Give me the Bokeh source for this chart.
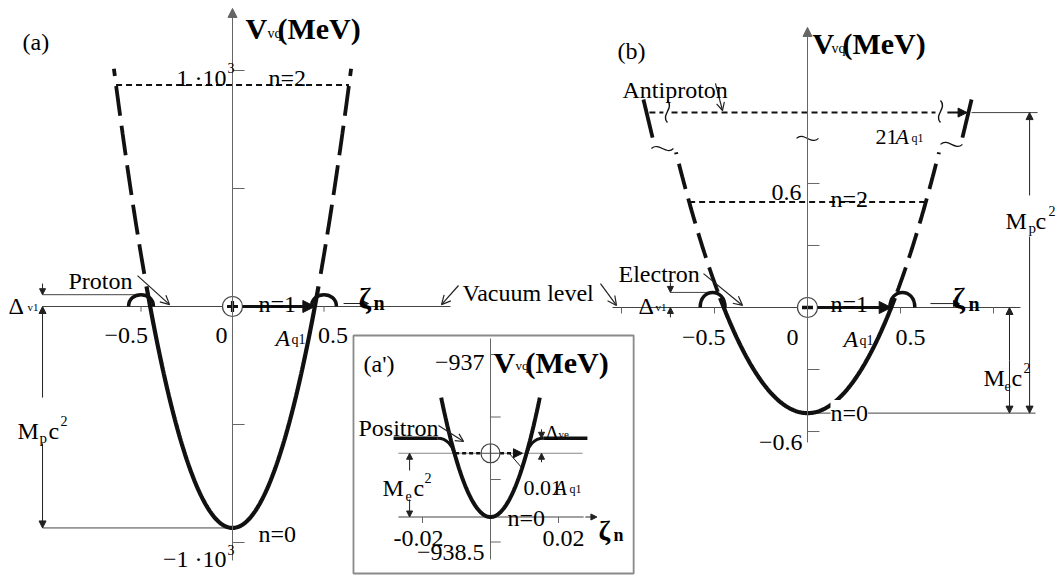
import numpy as np
from bokeh.plotting import figure
from bokeh.models import Range1d, Label, Arrow, NormalHead, OpenHead
from bokeh.embed import file_html
from bokeh.resources import INLINE

W, H = 1062, 576
SERIF = "Liberation Serif"
INK = "#111111"
THIN = "#444444"
AXIS = "#666666"

# ---------------- panel (a): proton well -------------------------------
A_MASS = 938.3            # M_p c^2 (MeV), depth of the well
A_ZERO = 0.45             # zeta where the well meets the vacuum level
A_SOLID = 0.47            # solid part of the well
A_TOP = 0.648             # dashed part ends here
A_N2 = 938.3              # n=2 level
A_HUMP_Z = [-0.5, 0.5]
A_HUMP_HALF = 0.068
A_HUMP_H = 50.0           # Delta_v1
A_ZETA_TICKS = [-0.5, 0.5]
A_V_TICKS = [1000, 500, -500, -1000]

# ---------------- panel (b): electron well -----------------------------
B_MASS = 0.511            # M_e c^2 (MeV)
B_ZERO = 0.45
B_SOLID = 0.47
B_DASH_TOP = 0.707
B_N2 = 0.511
B_HUMP_Z = [-0.51, 0.51]
B_HUMP_HALF = 0.067
B_HUMP_H = 0.073          # Delta_v1
B_ZETA_TICKS = [-1.0, -0.5, 0.5, 1.0]
B_V_TICKS = [0.6, 0.3, -0.3, -0.6]
B_ANTI = 0.943            # antiproton level on the broken axis
B_UPPER_Z = [0.833, 0.882]   # well above the axis break
B_UPPER_V = [0.822, 1.006]

# ---------------- inset (a'): bottom of the proton well ---------------
I_VERTEX = -938.3
I_ME = 0.51
I_ZERO = 0.0106           # zeta where the well reaches vertex + M_e c^2
I_TOP = 0.0145
I_DELTA = 0.12            # Delta_ve
I_FLAT = [0.0155, 0.0285]
I_ZETA_TICKS = [-0.02, 0.02]
I_V_TICKS = [-937.0, -937.5, -938.0, -938.5]


def x_range_for(value, px, scale):
    return Range1d(start=value - px / scale, end=value + (W - px) / scale)


def y_range_for(value, py, scale):
    return Range1d(start=value - (H - py) / scale, end=value + py / scale)


p = figure(width=W, height=H, output_backend="svg", toolbar_location=None,
           x_axis_type=None, y_axis_type=None, min_border=0,
           x_range=x_range_for(0.0, 232, 183.0), y_range=y_range_for(0.0, 306, 0.236))
p.grid.visible = False
p.outline_line_color = None
p.background_fill_color = "white"
p.border_fill_color = "white"
p.extra_x_ranges = {"b": x_range_for(0.0, 807, 186.0), "i": x_range_for(0.0, 490, 3400.0)}
p.extra_y_ranges = {"b": y_range_for(0.0, 307, 206.7), "i": y_range_for(-937.0, 354, 125.0)}


def rn(panel):
    name = "default" if panel == "a" else panel
    return dict(x_range_name=name, y_range_name=name)


def seg(panel, x0, y0, x1, y1, color=THIN, width=1.0, dash="solid"):
    p.segment(x0=x0, y0=y0, x1=x1, y1=y1, line_color=color, line_width=width,
              line_dash=dash, **rn(panel))


def arrow(panel, x0, y0, x1, y1, size=7, width=1.0, kind="normal", color="#222222", both=False):
    def head():
        if kind == "open":
            return OpenHead(size=size, line_color=color, line_width=width)
        return NormalHead(size=size, fill_color=color, line_color=color, line_width=1)
    p.add_layout(Arrow(end=head(), start=head() if both else None,
                       x_start=x0, y_start=y0, x_end=x1, y_end=y1,
                       line_color=color, line_width=width, **rn(panel)))


def lab(panel, x, y, text, size=24, dx=0, dy=0, style="normal", align="left", bg=None):
    p.add_layout(Label(x=x, y=y, x_offset=dx, y_offset=-dy, text=text,
                       text_font=SERIF, text_font_size=f"{size}px",
                       text_font_style=style, text_align=align,
                       text_baseline="alphabetic", text_color="black",
                       background_fill_color=bg, **rn(panel)))


def well(z, mass, zero):
    return mass * ((z / zero) ** 2 - 1.0)


def hump(panel, centers, half, height, width):
    c = np.array(centers)
    p.bezier(x0=c - half, y0=0 * c, x1=c + half, y1=0 * c,
             cx0=c - half, cy0=0 * c + height * 4 / 3, cx1=c + half, cy1=0 * c + height * 4 / 3,
             line_color=INK, line_width=width, **rn(panel))


def tilde(panel, xc, yc, hx, hy, vertical=False, width=1.2):
    if not vertical:
        p.bezier(x0=[xc - hx], y0=[yc], x1=[xc + hx], y1=[yc],
                 cx0=[xc - hx / 3], cy0=[yc + hy], cx1=[xc + hx / 3], cy1=[yc - hy],
                 line_color=INK, line_width=width, **rn(panel))
    else:
        p.bezier(x0=[xc], y0=[yc + hy], x1=[xc], y1=[yc - hy],
                 cx0=[xc + hx], cy0=[yc + hy / 3], cx1=[xc - hx], cy1=[yc - hy / 3],
                 line_color=INK, line_width=width, **rn(panel))


def well_curves(panel, mass, zero, solid, top, dash, width=4.2):
    zs = np.linspace(-solid, solid, 201)
    p.line(zs, well(zs, mass, zero), line_color=INK, line_width=width, **rn(panel))
    for sgn in (-1, 1):
        zd = sgn * np.linspace(solid + 0.012, top, 60)
        p.line(zd, well(zd, mass, zero), line_color=INK, line_width=width - 0.4,
               line_dash=dash, **rn(panel))


# ======================= panel (a) =====================================
seg("a", [-1.038], [0], [1.191], [0])                               # vacuum level
arrow("a", 0, -1076, 0, 1263, size=9, width=1.0, color=AXIS)        # V axis
seg("a", [0] * 4, A_V_TICKS, [0.066] * 4, A_V_TICKS, color=AXIS)
seg("a", A_ZETA_TICKS, [0, 0], A_ZETA_TICKS, [-22, -22], color=AXIS)
seg("a", [-1.038], [-A_MASS], [0], [-A_MASS])                        # bottom line
seg("a", [-1.038], [A_HUMP_H], [A_HUMP_Z[0]], [A_HUMP_H])            # Delta_v1 line
arrow("a", -1.038, 97, -1.038, A_HUMP_H, size=6)
arrow("a", -1.038, -386, -1.038, 0, size=7)
arrow("a", -1.038, -580, -1.038, -A_MASS, size=7)
zn = np.sqrt(A_N2 / A_MASS + 1.0) * A_ZERO
seg("a", [-zn], [A_N2], [zn], [A_N2], color=INK, width=2.0, dash="6 4")
well_curves("a", A_MASS, A_ZERO, A_SOLID, A_TOP, "30 10")
hump("a", A_HUMP_Z, A_HUMP_HALF, A_HUMP_H, 3.5)
arrow("a", -0.519, 131, -0.344, 8, size=9, kind="open", width=1.2)    # Proton pointer
arrow("a", 0.055, 0, A_ZERO, 0, size=12, width=3.0, color=INK)       # n=1 arrow
arrow("a", 0.607, 12.7, 0.743, 12.7, size=6, width=1.0)              # zeta_n pointer
arrow("a", 1.235, 89, 1.142, 8, size=9, kind="open", width=1.2)      # vacuum level pointer
p.scatter([0], [0], marker="circle", size=20, fill_color="white", line_color=THIN, line_width=1.2)
p.scatter([0], [0], marker="cross", size=11, line_color=INK, line_width=3.2)

lab("a", 0, 0, "(a)", dx=-210, dy=-265)
lab("a", 0, 0, "V", size=30, style="bold", dx=13, dy=-278)
lab("a", 0, 0, "vq", size=14, dx=35, dy=-273)
lab("a", 0, 0, "(MeV)", size=30, style="bold", dx=45, dy=-278)
lab("a", 0, 1000, "1 \u00b710", align="right", dx=-6, dy=7)
lab("a", 0, 1000, "3", size=14, dx=-5, dy=-3)
lab("a", 0, A_N2, "n=2", dx=36, dy=-7)
lab("a", 0, 0, "Proton", dx=-164, dy=-26)
lab("a", 0, 0, "\u0394", dx=-224, dy=-1)
lab("a", 0, 0, "v1", size=11, dx=-205, dy=0)
lab("a", 0, 0, "M", dx=-215, dy=124)
lab("a", 0, 0, "p", size=15, dx=-193, dy=131)
lab("a", 0, 0, "c", dx=-184, dy=124)
lab("a", 0, 0, "2", size=14, dx=-172, dy=114)
lab("a", -0.5, 0, "\u22120.5", align="right", dx=7, dy=29)
lab("a", 0, 0, "0", align="right", dx=-5, dy=29)
lab("a", 0, 0, "A", style="italic", dx=43, dy=31)
lab("a", 0, 0, "q1", size=14, dx=59, dy=33)
lab("a", 0.5, 0, "0.5", dx=-6, dy=29)
lab("a", 0, 0, "n=1", dx=26, dy=-3)
lab("a", 0, 0, "\u03b6", size=30, style="bold", dx=126, dy=-9)
lab("a", 0, 0, "n", size=20, style="bold", dx=141, dy=-4)
lab("a", 0, 0, "Vacuum level", dx=230, dy=-14)
lab("a", 0, -A_MASS, "n=0", dx=26, dy=6)
lab("a", 0, -1000, "\u22121 \u00b710", align="right", dx=-6, dy=16)
lab("a", 0, -1000, "3", size=14, dx=-5, dy=7)

# ======================= panel (b) =====================================
seg("b", [-1.048], [0], [1.145], [0])                               # vacuum level
arrow("b", 0, -0.653, 0, 1.355, size=9, width=1.0, color=AXIS)      # V axis
seg("b", [0] * 4, B_V_TICKS, [0.0645] * 4, B_V_TICKS, color=AXIS)
seg("b", B_ZETA_TICKS, [0] * 4, B_ZETA_TICKS, [-0.029] * 4, color=AXIS)
seg("b", [0], [-B_MASS], [1.226], [-B_MASS])                         # bottom line
seg("b", [0.882], [B_ANTI], [1.237], [B_ANTI])                       # antiproton level
seg("b", [-0.737], [B_HUMP_H], [B_HUMP_Z[0]], [B_HUMP_H])            # Delta_v1 line
arrow("b", -0.737, 0.121, -0.737, B_HUMP_H, size=6)
arrow("b", -0.737, -0.048, -0.737, 0, size=6)
arrow("b", 1.086, -0.2555, 1.086, 0, size=7)
arrow("b", 1.086, -0.2555, 1.086, -B_MASS, size=7)
arrow("b", 1.194, 0.542, 1.194, B_ANTI, size=7)
arrow("b", 1.194, 0.343, 1.194, -B_MASS, size=7)
zn = np.sqrt(B_N2 / B_MASS + 1.0) * B_ZERO
seg("b", [-zn], [B_N2], [zn], [B_N2], color=INK, width=2.0, dash="6 4")
seg("b", [-0.850, -0.731], [B_ANTI] * 2, [-0.775, 0.688], [B_ANTI] * 2,
    color=INK, width=2.0, dash="6 4")
arrow("b", 0.752, B_ANTI, 0.858, B_ANTI, size=9, width=2.0, color=INK)
well_curves("b", B_MASS, B_ZERO, B_SOLID, B_DASH_TOP, "26 10")
for sgn in (-1, 1):
    seg("b", [sgn * B_UPPER_Z[0]], [B_UPPER_V[0]], [sgn * B_UPPER_Z[1]], [B_UPPER_V[1]],
        color=INK, width=3.8)
hump("b", B_HUMP_Z, B_HUMP_HALF, B_HUMP_H, 3.5)
tilde("b", 0, 0.818, 0.059, 0.034)
tilde("b", -0.780, 0.769, 0.059, 0.034)
tilde("b", 0.774, 0.789, 0.059, 0.034)
tilde("b", -0.753, 0.948, 0.038, 0.053, vertical=True, width=1.4)
tilde("b", 0.715, 0.948, 0.038, 0.053, vertical=True, width=1.4)
arrow("b", -0.495, 1.084, -0.457, 0.953, size=8, kind="open", width=1.2)   # Antiproton pointer
arrow("b", -0.559, 0.164, -0.349, 0.01, size=9, kind="open", width=1.2)    # Electron pointer
arrow("b", -1.113, 0.116, -1.027, 0.01, size=9, kind="open", width=1.2)    # vacuum level pointer
arrow("b", 0.054, 0, B_ZERO, 0, size=12, width=3.0, color=INK)            # n=1 arrow
arrow("b", 0.661, 0.019, 0.817, 0.019, size=6, width=1.0)                 # zeta_n pointer
p.scatter([0], [0], marker="circle", size=20, fill_color="white", line_color=THIN,
          line_width=1.2, **rn("b"))
p.scatter([0], [0], marker="dash", size=11, line_color=INK, line_width=3.5, **rn("b"))

lab("b", 0, 0, "(b)", dx=-190, dy=-257)
lab("b", 0, 0, "V", size=30, style="bold", dx=5, dy=-264)
lab("b", 0, 0, "vq", size=14, dx=24, dy=-259)
lab("b", 0, 0, "(MeV)", size=30, style="bold", dx=35, dy=-264)
lab("b", 0, 0, "Antiproton", dx=-185, dy=-218)
lab("b", 0, 0, "21", size=22, dx=68, dy=-171)
lab("b", 0, 0, "A", size=22, style="italic", dx=88, dy=-171)
lab("b", 0, 0, "q1", size=12, dx=104, dy=-170)
lab("b", 0, 0.6, "0.6", align="right", dx=-6, dy=9)
lab("b", 0, B_N2, "n=2", dx=23, dy=-3)
lab("b", 0, 0, "Electron", dx=-189, dy=-34)
lab("b", 0, 0, "\u0394", dx=-169, dy=-2)
lab("b", 0, 0, "v1", size=11, dx=-152, dy=-1)
lab("b", 0, 0, "n=1", dx=23, dy=-4)
lab("b", 0, 0, "\u03b6", size=30, style="bold", dx=145, dy=-10)
lab("b", 0, 0, "n", size=20, style="bold", dx=161, dy=-4)
lab("b", -0.5, 0, "\u22120.5", align="right", dx=11, dy=30)
lab("b", 0, 0, "0", align="right", dx=-9, dy=30)
lab("b", 0, 0, "A", style="italic", dx=36, dy=31)
lab("b", 0, 0, "q1", size=14, dx=52, dy=33)
lab("b", 0.5, 0, "0.5", dx=-5, dy=30)
lab("b", 0, -B_MASS, "n=0", dx=23, dy=0, bg="white")
lab("b", 0, -0.6, "\u22120.6", align="right", dx=-5, dy=11)
lab("b", 0, 0, "M", dx=176, dy=70)
lab("b", 0, 0, "e", size=14, dx=197, dy=78)
lab("b", 0, 0, "c", dx=204, dy=70)
lab("b", 0, 0, "2", size=14, dx=216, dy=60)
lab("b", 0, 0, "M", dx=198, dy=-87)
lab("b", 0, 0, "p", size=15, dx=221, dy=-80)
lab("b", 0, 0, "c", dx=228, dy=-87)
lab("b", 0, 0, "2", size=14, dx=241, dy=-97)

# ======================= inset (a') ====================================
p.quad(left=[-0.0403], right=[0.0421], bottom=[-938.752], top=[-936.848],
       fill_color="white", line_color="#8a8a8a", line_width=1.8, **rn("i"))
I_LEVEL = I_VERTEX + I_ME
seg("i", [0], [-938.64], [0], [-936.872], color=AXIS)               # V axis
seg("i", [0] * 4, I_V_TICKS, [0.003] * 4, I_V_TICKS, color=AXIS)
seg("i", [-0.0271], [I_VERTEX], [0.0274], [I_VERTEX], color=THIN)    # zeta axis
seg("i", I_ZETA_TICKS, [I_VERTEX] * 2, I_ZETA_TICKS, [I_VERTEX - 0.048] * 2, color=AXIS)
seg("i", [-0.0271], [I_LEVEL], [0.0271], [I_LEVEL], color="#888888")
arrow("i", 0.0279, I_VERTEX, 0.0313, I_VERTEX, size=6)
zi = np.linspace(-I_TOP, I_TOP, 161)
p.line(zi, I_VERTEX + I_ME * (zi / I_ZERO) ** 2, line_color=INK, line_width=4.0, **rn("i"))
flat = I_LEVEL + I_DELTA
for sgn in (-1, 1):
    seg("i", [sgn * I_FLAT[0]], [flat], [sgn * I_FLAT[1]], [flat], color=INK, width=3.6)
    p.bezier(x0=[sgn * I_FLAT[0]], y0=[flat], x1=[sgn * I_ZERO], y1=[I_LEVEL],
             cx0=[sgn * 0.0128], cy0=[flat], cx1=[sgn * 0.0112], cy1=[I_LEVEL + 0.06],
             line_color=INK, line_width=3.0, **rn("i"))
seg("i", [-I_ZERO + 0.0002], [I_LEVEL], [-0.0028], [I_LEVEL], color=INK, width=2.4, dash="4 3")
seg("i", [0.0028], [I_LEVEL], [0.0080], [I_LEVEL], color=INK, width=2.4, dash="4 3")
arrow("i", 0.0070, I_LEVEL, 0.0094, I_LEVEL, size=9, width=2.0, color=INK)
arrow("i", 0.0150, flat + 0.072, 0.0150, flat, size=6)
arrow("i", 0.0150, I_LEVEL - 0.072, 0.0150, I_LEVEL, size=6)
arrow("i", -0.0238, -937.928, -0.0238, I_LEVEL, size=6)
arrow("i", -0.0238, -938.16, -0.0238, I_VERTEX, size=6)
arrow("i", -0.0153, -937.568, -0.0079, -937.696, size=8, kind="open", width=1.2)   # Positron pointer
seg("i", [0.0053], [-937.784], [0.0094], [-937.912], color=INK, width=1.0)
p.scatter([0], [I_LEVEL], marker="circle_cross", size=19, fill_color="white",
          line_color=THIN, line_width=1.2, **rn("i"))

lab("i", 0, -937.0, "(a')", dx=-127, dy=9)
lab("i", 0, -937.0, "\u2212937", align="right", dx=-6, dy=8)
lab("i", 0, -937.0, "V", size=30, style="bold", dx=3, dy=8)
lab("i", 0, -937.0, "vq", size=13, dx=25, dy=11)
lab("i", 0, -937.0, "(MeV)", size=30, style="bold", dx=35, dy=8)
lab("i", 0, -937.0, "Positron", dx=-132, dy=73)
lab("i", 0, -937.0, "\u0394", size=20, dx=55, dy=78)
lab("i", 0, -937.0, "ve", size=11, dx=68, dy=79)
lab("i", 0, -937.0, "M", dx=-108, dy=133)
lab("i", 0, -937.0, "e", size=14, dx=-85, dy=141)
lab("i", 0, -937.0, "c", dx=-77, dy=133)
lab("i", 0, -937.0, "2", size=14, dx=-66, dy=123)
lab("i", 0, -937.0, "0.01", size=22, dx=33, dy=133)
lab("i", 0, -937.0, "A", size=22, style="italic", dx=63, dy=133)
lab("i", 0, -937.0, "q1", size=12, dx=79, dy=134)
lab("i", 0, I_VERTEX, "n=0", dx=17, dy=1)
lab("i", -0.02, I_VERTEX, "-0.02", align="center", dx=-4, dy=21)
lab("i", 0.02, I_VERTEX, "0.02", align="center", dx=5, dy=21)
lab("i", 0, -938.5, "\u2212938.5", align="right", dx=-6, dy=10)
lab("i", 0, I_VERTEX, "\u03b6", size=28, style="bold", dx=108, dy=13)
lab("i", 0, I_VERTEX, "n", size=18, style="bold", dx=123, dy=18)

open("out.html", "w").write(file_html(p, INLINE))
